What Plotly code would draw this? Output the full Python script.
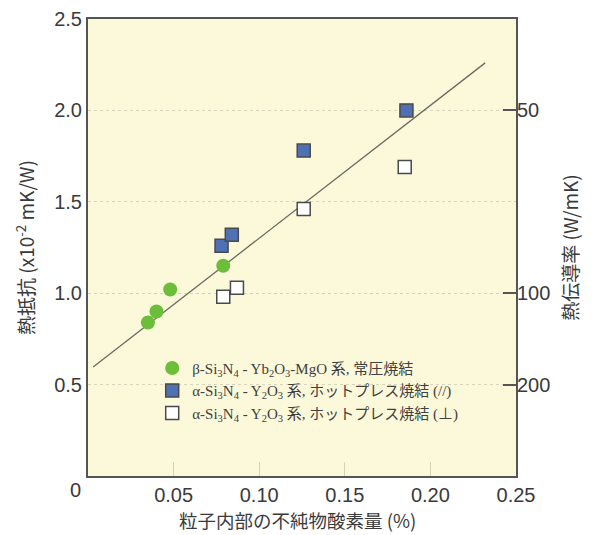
import plotly.graph_objects as go

# data
beta_x = [0.035, 0.040, 0.048, 0.079]
beta_y = [0.84, 0.90, 1.02, 1.15]
alpha_par_x = [0.078, 0.084, 0.126, 0.186]
alpha_par_y = [1.26, 1.32, 1.78, 2.00]
alpha_perp_x = [0.079, 0.087, 0.126, 0.185]
alpha_perp_y = [0.98, 1.03, 1.46, 1.69]
fit_x = [0.003, 0.232]
fit_y = [0.596, 2.26]

y_ticks = [0.5, 1.0, 1.5, 2.0, 2.5]
x_ticks = [0.05, 0.10, 0.15, 0.20, 0.25]
x_ticklabels = ["0.05", "0.10", "0.15", "0.20", "0.25"]
k_ticks_val = [2.0, 1.0, 0.5]
k_ticks_text = ["50", "100", "200"]

names = [
    "β-Si<sub>3</sub>N<sub>4</sub> - Yb<sub>2</sub>O<sub>3</sub>-MgO 系, 常圧焼結",
    "α-Si<sub>3</sub>N<sub>4</sub> - Y<sub>2</sub>O<sub>3</sub> 系, ホットプレス焼結 (//)",
    "α-Si<sub>3</sub>N<sub>4</sub> - Y<sub>2</sub>O<sub>3</sub> 系, ホットプレス焼結 (⊥)",
]

SANS = "Liberation Sans, Arial, Noto Sans CJK JP, sans-serif"
CJK = "Noto Sans CJK JP, Liberation Sans, sans-serif"
TXT = "#3a3a3a"

fig = go.Figure()
fig.add_trace(go.Scatter(x=fit_x, y=fit_y, mode="lines",
                         line=dict(color="#6b6b60", width=1.3),
                         showlegend=False, hoverinfo="skip"))
fig.add_trace(go.Scatter(x=beta_x, y=beta_y, mode="markers", name=names[0],
                         marker=dict(symbol="circle", size=14, color="#6cbd3a",
                                     line=dict(width=0))))
fig.add_trace(go.Scatter(x=alpha_par_x, y=alpha_par_y, mode="markers", name=names[1],
                         marker=dict(symbol="square", size=13, color="#4f70b4",
                                     line=dict(width=1.5, color="#4a4a4a"))))
fig.add_trace(go.Scatter(x=alpha_perp_x, y=alpha_perp_y, mode="markers", name=names[2],
                         marker=dict(symbol="square", size=13, color="#ffffff",
                                     line=dict(width=1.5, color="#4a4a4a"))))
# trace anchoring the right-hand (thermal conductivity) axis
fig.add_trace(go.Scatter(x=[None], y=[None], yaxis="y2", showlegend=False,
                         hoverinfo="skip"))

fig.update_layout(
    width=597, height=535,
    margin=dict(l=80, r=89, t=11, b=67),
    paper_bgcolor="white",
    plot_bgcolor="#fcf8da",
    font=dict(family=SANS, color=TXT, size=19),
    xaxis=dict(range=[0, 0.25], tickvals=x_ticks, ticktext=x_ticklabels,
               automargin=False,
               showgrid=False, zeroline=False,
               ticks="inside", ticklen=14, tickwidth=1, tickcolor="#d6d2b6",
               showline=True, linecolor="#555555", linewidth=2, mirror=True,
               tickfont=dict(size=20, color=TXT)),
    yaxis=dict(range=[0, 2.5], tickvals=y_ticks,
               ticktext=["0.5", "1.0", "1.5", "2.0", "2.5"],
               automargin=False,
               showgrid=True, gridcolor="#d9d5bd", griddash="dot", gridwidth=1,
               zeroline=False, ticks="",
               showline=True, linecolor="#555555", linewidth=2, mirror=True,
               tickfont=dict(size=20, color=TXT),
               title=dict(text="熱抵抗 (x10<sup>-2</sup> mK/W)",
                          font=dict(size=19, color=TXT, family=CJK))),
    yaxis2=dict(range=[0, 2.5], overlaying="y", side="right",
                automargin=False,
                tickvals=k_ticks_val, ticktext=k_ticks_text,
                showgrid=False, zeroline=False,
                ticks="inside", ticklen=13, tickwidth=1.5, tickcolor="#555555",
                tickfont=dict(size=20, color=TXT),
                title=dict(text="熱伝導率 (W/mK)",
                           font=dict(size=19, color=TXT, family=CJK))),
    legend=dict(x=0.15, y=0.272, xanchor="left", yanchor="top",
                bgcolor="rgba(0,0,0,0)", borderwidth=0,
                font=dict(size=15, color="#404040",
                          family="Liberation Serif, Noto Sans CJK JP, serif"),
                itemwidth=30),
    annotations=[
        dict(text="0", xref="paper", yref="paper", x=0, y=0,
             xanchor="right", yanchor="top", xshift=-5, yshift=-1,
             showarrow=False, font=dict(size=20, color=TXT)),
        dict(text="粒子内部の不純物酸素量 (%)", xref="paper", yref="paper",
             x=0.49, y=0, xanchor="center", yanchor="top", yshift=-29,
             showarrow=False, font=dict(size=18.5, color=TXT, family=CJK)),
    ],
)

fig.write_html("out.html")
